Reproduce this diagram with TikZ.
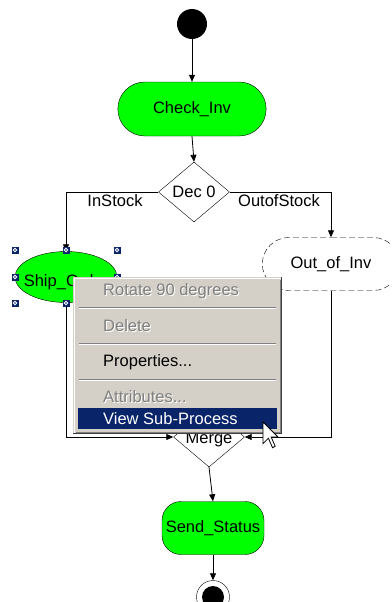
\documentclass[tikz,border=0pt]{standalone}
\usepackage{fontspec}
\setmainfont{Liberation Sans}
\definecolor{actgreen}{RGB}{0,255,0}
\definecolor{menugray}{RGB}{212,208,200}
\definecolor{menunavy}{RGB}{10,36,106}
\definecolor{menudark}{RGB}{128,128,128}
\usetikzlibrary{arrows.meta,shapes.geometric,shapes.misc}

\begin{document}
\begin{tikzpicture}[x=1pt,y=-1pt,
        txt/.style={font=\fontsize{16.5}{19}\selectfont},
        act/.style={rounded rectangle, draw=black, fill=actgreen, thin,
                    minimum width=155pt, minimum height=54pt, txt},
        dec/.style={diamond, draw=black, fill=white, thin, inner sep=0pt,
                    minimum width=71pt, minimum height=60pt},
        flow/.style={-{Triangle[width=6pt,length=7pt]}, line width=0.8pt},
        item/.style={anchor=west, inner sep=0pt, txt},
        handle/.style={fill=menunavy}
      ]
        \useasboundingbox (0,0) rectangle (391,602);
        \clip (0,0) rectangle (391,602);

        % activity flow
        \node[circle, fill=black, minimum size=30pt, inner sep=0pt] (start) at (192,24) {};
        \node[act] (check) at (192,109) {Check\_Inv};
        \node[dec, label={center:{\fontsize{16.5}{19}\selectfont Dec 0}}] (dec) at (194,192) {};
        \node[ellipse, draw=black, fill=actgreen, thin, inner sep=0pt,
              minimum width=102pt, minimum height=51pt,
              label={[yshift=-5pt]center:{\fontsize{16.5}{19}\selectfont Ship\_Order}}] (ship) at (66,277) {};
        \node[act, fill=white, dash pattern=on 6pt off 3pt, minimum width=144pt, minimum height=53pt] (outinv) at (331,264) {Out\_of\_Inv};
        \node[dec, label={[yshift=-3pt]center:{\fontsize{16.5}{19}\selectfont Merge}}] (merge) at (209,437) {};
        \node[rectangle, rounded corners=19pt, draw=black, fill=actgreen, thin, inner sep=2pt,
              minimum width=102pt, minimum height=53pt, txt] (send) at (213,528) {Send\_Status};
        \node[circle, draw=black, thin, fill=white, minimum size=33pt, inner sep=0pt] (final) at (213,597) {};
        \node[circle, fill=black, minimum size=22pt, inner sep=0pt] (finaldot) at (213,597) {};

        \draw[flow] (start.south) -- (check.north);
        \draw[flow] (check.south) -- (dec.north);
        \draw[flow] (dec.west) -| (ship.north);
        \draw[flow] (dec.east) -| (outinv.north);
        \draw[flow] (ship.south) |- (merge.west);
        \draw[flow] (outinv.south) |- (merge.east);
        \draw[flow] (merge.south) -- (send.north);
        \draw[flow] (send.south) -- (final.north);

        \node[txt] (instock) at (115,201) {InStock};
        \node[txt] (outstock) at (279,201) {OutofStock};

        % selection handles
        \foreach \hx/\hy in {15/250,66/250,117/250,15/277,117/277,15/303,66/303,117/303} {
          \fill[handle] (\hx-3.5,\hy-3.5) rectangle (\hx+3.5,\hy+3.5);
          \draw[white, line width=0.8pt] (\hx,\hy) circle (1.7);
        }

        % context menu
        \fill[menugray] (73,277) rectangle (282,434);
        \draw[white] (74.5,433) -- (74.5,278.5) -- (281,278.5);
        \draw[menudark] (75.5,432) -- (280.5,432) -- (280.5,279.5);
        \draw[black!75] (73,433.5) -- (281.5,433.5) -- (281.5,277);
        \foreach \sy in {307,343,379} {
          \draw[menudark] (79,\sy) -- (276,\sy);
          \draw[white] (79,\sy+1) -- (276,\sy+1);
        }
        \fill[menunavy] (78,408) rectangle (277,429);

        \node[item, text=white] at (104,292) {Rotate 90 degrees};
        \node[item, text=menudark] (rotate) at (103,291) {Rotate 90 degrees};
        \node[item, text=white] at (104,327) {Delete};
        \node[item, text=menudark] (delete) at (103,326) {Delete};
        \node[item] (props) at (103,362) {Properties...};
        \node[item, text=white] at (104,398) {Attributes...};
        \node[item, text=menudark] (attrs) at (103,397) {Attributes...};
        \node[item, text=white] (subproc) at (103,419) {View Sub-Process};

        % mouse pointer
        \draw[fill=white, line width=0.8pt, line join=miter]
          (263,422) -- ++(0,21.6) -- ++(5.4,-5.4) -- ++(4.1,9.5) -- ++(2.7,-1.4)
          -- ++(-4.1,-9.4) -- ++(6.8,0) -- cycle;
      \end{tikzpicture}
\end{document}
